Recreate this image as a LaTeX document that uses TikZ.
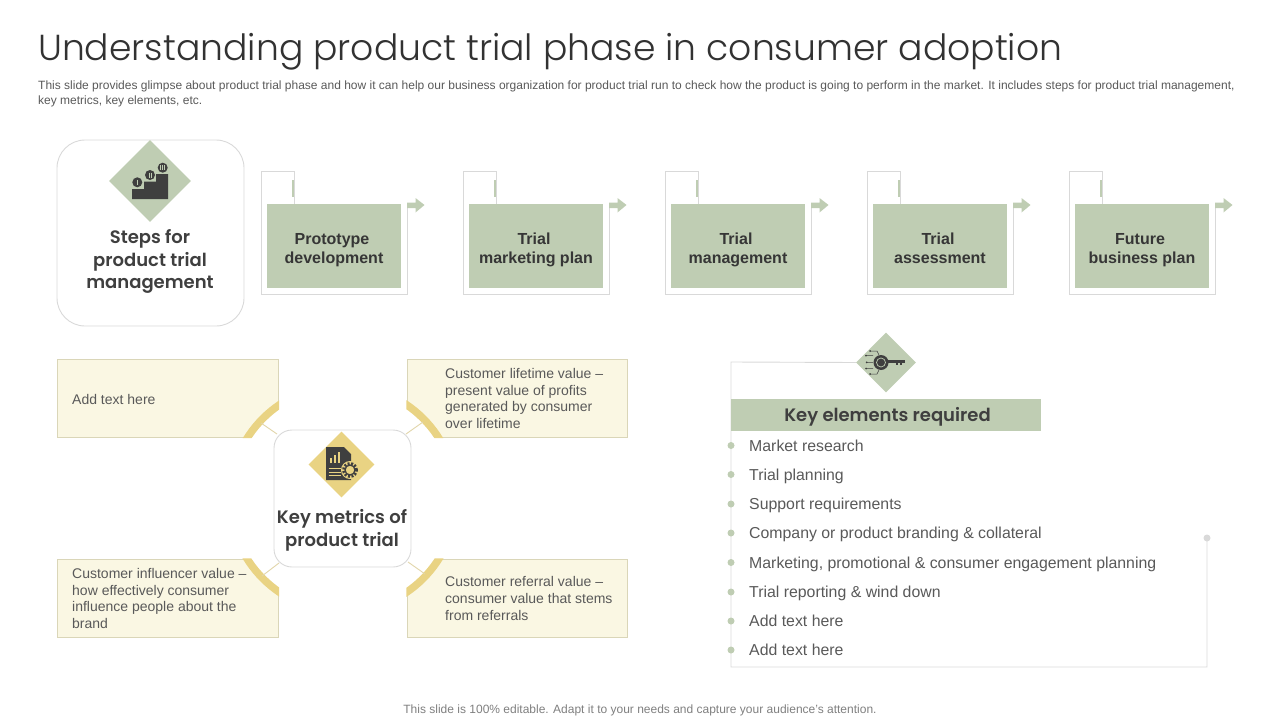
\documentclass[tikz,border=0pt]{standalone}
\usepackage{fontspec}
\setmainfont{Liberation Sans}
\newfontfamily\ttlfont{Poppins Light}
\newfontfamily\headfont{Poppins SemiBold}
\usetikzlibrary{shapes.geometric}
\definecolor{sage}{HTML}{BFCDB3}
\definecolor{gold}{HTML}{E9D383}
\definecolor{pale}{HTML}{FAF7E3}
\definecolor{paleline}{HTML}{DAD6B8}
\definecolor{hair}{HTML}{D9D9D9}
\definecolor{ink}{HTML}{3F3F3F}
\definecolor{body}{HTML}{595959}
\definecolor{grey}{HTML}{7F7F7F}
\tikzset{
  hairline/.style={draw=hair,line width=0.9pt},
  goldline/.style={draw=gold!55!hair,line width=0.9pt},
  card/.style={draw=hair,line width=0.9pt,fill=white,rounded corners=#1},
  stepbox/.style={fill=sage,minimum width=134pt,minimum height=84pt,inner sep=0pt},
  steplabel/.style={inner sep=0pt,align=center,text=ink!85!black,font=\fontsize{16}{19}\selectfont\bfseries},
  paleblock/.style={fill=pale,draw=paleline,line width=0.7pt},
  metric/.style={anchor=west,align=left,text=body,inner sep=0pt,font=\fontsize{14}{16.7}\selectfont},
  item/.style={anchor=west,inner sep=0pt,text=body,text height=12pt,text depth=1pt,font=\fontsize{15.85}{19}\selectfont},
  itemdot/.style={circle,fill=sage,minimum size=7pt,inner sep=0pt},
  heading/.style={align=center,text=ink,inner sep=0pt,font=\headfont\fontsize{18}{22.7}\selectfont},
  tipshape/.style={fill=sage}
}
\newcommand{\stepunit}[4]{%
  \begin{scope}[xshift=#1pt]
    \node[stepbox] (#2) at (334,246) {};
    \node[steplabel] (#2t) at (334,250.5) {#3\hspace*{4pt}\strut\\#4\strut};
    \draw[hairline] (294,204) -- (294,171) -- (261,171) -- (261,294.5) -- (407.5,294.5) -- (407.5,204);
    \draw[sage,line width=2.2pt] (293,180) -- (293,197);
    \fill[tipshape] (407,202.5) -- (415.5,202.5) -- (415.5,198) -- (424.5,205) -- (415.5,212.5) -- (415.5,208) -- (407,208) -- cycle;
  \end{scope}}
\begin{document}
\begin{tikzpicture}[x=1pt,y=-1pt]
\useasboundingbox (0,0) rectangle (1280,720);
% title
\node[anchor=west,inner sep=0pt,text=ink!80!black,font=\ttlfont\fontsize{36.15}{40}\selectfont] (title) at (38,52) {Understanding product trial phase in consumer adoption};
\node[anchor=north west,inner sep=0pt,align=left,text=body,font=\fontsize{12}{14.4}\selectfont] (desc) at (38,81) {This slide provides glimpse about product trial phase and how it can help our business organization for product trial run to check how the product is going to perform in the market. It includes steps for product trial management,\\key metrics, key elements, etc.};
% steps card
\draw[card=28pt] (57,140) rectangle (244,326);
\node[diamond,fill=sage,minimum width=82pt,minimum height=82pt,inner sep=0pt] (stepsicon) at (150,181) {};
\fill[ink] (132,199) -- (132,189) -- (144,189) -- (144,181.5) -- (156,181.5) -- (156,174) -- (168,174) -- (168,199) -- cycle;
\fill[ink] (137.3,182.3) circle (5pt) (150,175) circle (5pt) (162.7,167.7) circle (5pt);
\draw[sage,line width=0.8pt] (137.3,179.8) -- (137.3,184.8) (149,172.5) -- (149,177.5) (151,172.5) -- (151,177.5) (160.7,165.2) -- (160.7,170.2) (162.7,165.2) -- (162.7,170.2) (164.7,165.2) -- (164.7,170.2);
\node[heading] (stepstitle) at (150,261.5) {Steps for\\product trial\\management};
% steps
\stepunit{0}{s1}{Prototype}{development}
\stepunit{202}{s2}{Trial}{marketing plan}
\stepunit{404}{s3}{Trial}{management}
\stepunit{606}{s4}{Trial}{assessment}
\stepunit{808}{s5}{Future}{business plan}
% metric blocks
\foreach \xa/\ya/\xb/\yb in {57/359/278.5/437.5,407/359/627.5/437.5,57/559/278.5/637.5,407/559/627.5/637.5}{
  \draw[paleblock] (\xa,\ya) rectangle (\xb,\yb);
}
\begin{scope}
  \clip (56,358) rectangle (279.2,438.2) (406.3,358) rectangle (629,438.2) (56,558.3) rectangle (279.2,639) (406.3,558.3) rectangle (629,639);
  \fill[white] (343,498.5) circle (110pt);
  \draw[gold,line width=7.5pt] (343,498.5) circle (113.25pt);
\end{scope}
\coordinate (l1) at (261,423); \coordinate (l2) at (423,422); \coordinate (l3) at (262,576); \coordinate (l4) at (425,574);
\coordinate (c1) at (277,434); \coordinate (c2) at (406,434); \coordinate (c3) at (279,563); \coordinate (c4) at (408,562);
\draw[goldline] (l1) -- (c1) (l2) -- (c2) (l3) -- (c3) (l4) -- (c4);
\node[metric] (m1) at (72,399) {Add text here};
\node[metric] (m2) at (445,398.5) {Customer lifetime value –\\present value of profits\\generated by consumer\\over lifetime};
\node[metric] (m3) at (72,598.5) {Customer influencer value –\\how effectively consumer\\influence people about the\\brand};
\node[metric] (m4) at (445,598.5) {Customer referral value –\\consumer value that stems\\from referrals};
% centre card
\draw[card=18pt] (274,430) rectangle (411,567);
\node[diamond,fill=gold,minimum width=66pt,minimum height=66pt,inner sep=0pt] (metricsicon) at (341.5,464.5) {};
\fill[ink] (326,447) -- (344,447) -- (351,454) -- (351,480) -- (326,480) -- cycle;
\draw[gold,line width=1.8pt] (331,463) -- (331,458) (335,463) -- (335,455) (339,463) -- (339,451.5);
\draw[gold,line width=1pt] (328.5,468.5) -- (341,468.5) (328.5,472) -- (341,472) (328.5,475.5) -- (341,475.5);
\fill[gold] (350,470) circle (9pt);
\draw[ink,line width=2.6pt,dash pattern=on 2pt off 1.6pt] (350,470) circle (6.6pt);
\draw[ink,line width=1.3pt] (350,470) circle (5pt);
\fill[gold] (350,470) circle (1.8pt);
\node[heading] (metricstitle) at (342,530) {Key metrics of\\product trial};
% key elements
\node[diamond,fill=sage,minimum width=60pt,minimum height=60pt,inner sep=0pt] (keyicon) at (886,362.5) {};
\coordinate (frameend) at (1207,538);
\draw[hairline] (keyicon.west) -- (731,362) -- (731,667) -- (1207,667) -- (frameend);
\fill[ink] (881,362.5) circle (7.5pt);
\draw[sage,line width=0.7pt] (881,362.5) circle (4.5pt);
\draw[ink,line width=2.2pt] (888,361.5) -- (905,361.5);
\draw[ink,line width=1.6pt] (897,362) -- (897,365) (901,362) -- (901,365);
\draw[ink,line width=0.5pt] (870,351) -- (877,351) -- (879,355) (866,355.7) -- (873,355.7) (866.7,362.3) -- (873,362.3) (866,368.5) -- (873,368.5) (870,374) -- (877,374) -- (879,370);
\fill[ink] (870,351) circle (1pt) (866,355.7) circle (1pt) (866.7,362.3) circle (1pt) (866,368.5) circle (1pt) (870,374) circle (1pt);
\node[fill=sage,minimum width=310pt,minimum height=32pt,inner sep=0pt] (keyhead) at (886,415) {};
\node[inner sep=0pt,text=ink,font=\headfont\fontsize{18}{22}\selectfont] (keyheadtext) at (887.5,417) {Key elements required\strut};
\node[circle,fill=hair,minimum size=7pt,inner sep=0pt] (enddot) at (frameend) {};
\foreach \y/\t in {445.5/Market research,474.5/Trial planning,504/Support requirements,533/{Company or product branding \& collateral},562.5/{Marketing, promotional \& consumer engagement planning},592/Trial reporting \& wind down,621/Add text here,650/Add text here}{
  \node[itemdot] at (731,\y) {};
  \node[item] at (749,\y) {\t};
}
% footer
\node[inner sep=0pt,text=grey,font=\fontsize{12}{14}\selectfont] (foot) at (640,710.5) {This slide is 100\% editable. Adapt it to your needs and capture your audience's attention.};
\end{tikzpicture}
\end{document}
